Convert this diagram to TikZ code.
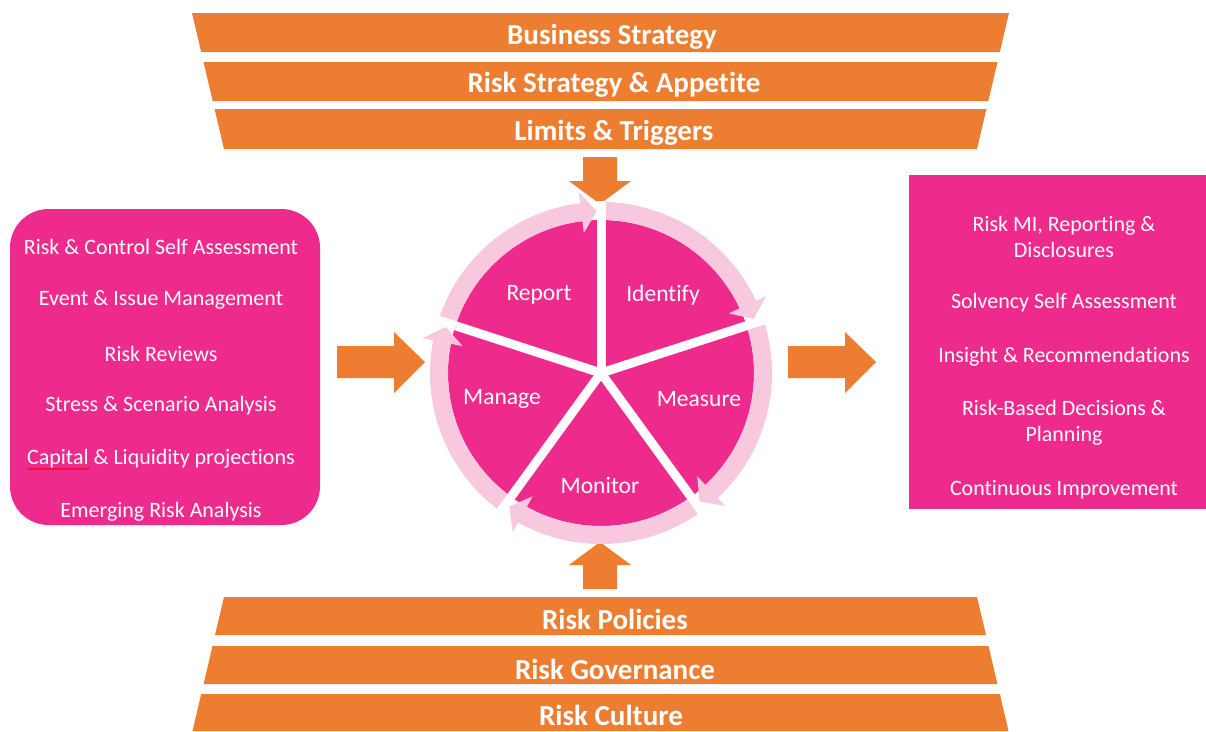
\documentclass[tikz,border=0pt]{standalone}
\usepackage{fontspec}
\setmainfont{Carlito}[Ligatures=NoCommon]
\usetikzlibrary{decorations.pathmorphing}
\definecolor{barorange}{HTML}{ED7D31}
\definecolor{wheelpink}{HTML}{EE2A8C}
\definecolor{ringpink}{HTML}{F7C8DE}
\begin{document}
\begin{tikzpicture}[x=0.02cm, y=0.02cm, line join=round,
	bar/.style={fill=barorange},
	bartext/.style={text=white, font=\bfseries\fontsize{16.5}{19}\selectfont, inner sep=0pt},
	item/.style={text=white, font=\fontsize{12.5}{14.7}\selectfont, align=center, inner sep=0pt},
	wheeltext/.style={text=white, font=\fontsize{13.4}{16}\selectfont, inner sep=0pt},
	ring/.style={fill=ringpink},
	spoke/.style={draw=white, line width=0.18cm}]
		\useasboundingbox (0,0) rectangle (1206,-731);
		% top funnel
		\fill[bar] (192,-13)--(1009,-13)--(999.8,-52)--(201.2,-52)--cycle;
		\fill[bar] (203.5,-62)--(997.5,-62)--(988.3,-101)--(212.7,-101)--cycle;
		\fill[bar] (214.6,-109)--(986.4,-109)--(977,-149)--(224,-149)--cycle;
		\node[bartext] (bstrat) at (612,-37) {Business Strategy};
		\node[bartext] (rsa) at (614,-85) {Risk Strategy \& Appetite};
		\node[bartext] (limits) at (614,-133) {Limits \& Triggers};
		% bottom funnel
		\fill[bar] (224,-597)--(977,-597)--(986,-635)--(215,-635)--cycle;
		\fill[bar] (212.5,-646)--(988.5,-646)--(997.4,-684)--(203.6,-684)--cycle;
		\fill[bar] (201.2,-694)--(999.8,-694)--(1008.5,-731)--(192.5,-731)--cycle;
		\node[bartext] (policies) at (615,-619) {Risk Policies};
		\node[bartext] (governance) at (615,-669) {Risk Governance};
		\node[bartext] (culture) at (611,-715) {Risk Culture};
		% block arrows
		\fill[bar] (583,-157)--(617,-157)--(617,-181)--(631,-181)--(600,-204)--(569,-181)--(583,-181)--cycle;
		\fill[bar] (583,-589)--(617,-589)--(617,-565)--(631,-565)--(600,-542)--(569,-565)--(583,-565)--cycle;
		\fill[bar] (337,-346)--(394,-346)--(394,-332)--(425,-362)--(394,-393)--(394,-378)--(337,-378)--cycle;
		\fill[bar] (788,-346)--(845,-346)--(845,-332)--(876,-362)--(845,-393)--(845,-378)--(788,-378)--cycle;
		% side boxes
		\fill[wheelpink, rounded corners=22pt] (10,-209) rectangle (320,-525);
		\fill[wheelpink] (909,-175) rectangle (1206,-509);
		\node[item] (rcsa) at (161,-247) {Risk \& Control Self Assessment};
		\node[item] (eim) at (161,-300) {Event \& Issue Management};
		\node[item] (rrev) at (161,-354) {Risk Reviews};
		\node[item] (ssa) at (161,-406) {Stress \& Scenario Analysis};
		\node[item] (clp) at (161,-459) {Capital \& Liquidity projections};
		\node[item] (era) at (161,-512) {Emerging Risk Analysis};
		\draw[red, line width=0.5pt, decorate, decoration={snake, amplitude=0.5pt, segment length=2.4pt}] (28,-469)--(90,-469);
		\node[item] (rmi) at (1064,-237) {Risk MI, Reporting \&\\Disclosures};
		\node[item] (solv) at (1064,-303) {Solvency Self Assessment};
		\node[item] (ins) at (1064,-357) {Insight \& Recommendations};
		\node[item] (rbd) at (1064,-423) {Risk-Based Decisions \&\\Planning};
		\node[item] (ci) at (1064,-490) {Continuous Improvement};
		% wheel
		\begin{scope}[shift={(601,-373)}]
			\fill[wheelpink] (0,0) circle[radius=153];
			\foreach \a in {90,18,-54,-126,-198}{
				\pgfmathsetmacro\tip{\a-70.5}
				\pgfmathsetmacro\hb{\a-65}
				\fill[ring] (\a:153) arc[start angle=\a, end angle=\hb, radius=153]--(\hb:141)--(\tip:162)--(\hb:182)--(\hb:171) arc[start angle=\hb, end angle=\a, radius=171]--cycle;
			}
			\foreach \a in {90,18,-54,-126,162}
				\draw[spoke] (0,0)--(\a:172);
		\end{scope}
		\node[wheeltext] (report) at (539,-295) {Report};
		\node[wheeltext] (identify) at (663,-295) {Identify};
		\node[wheeltext] (manage) at (502,-399) {Manage};
		\node[wheeltext] (measure) at (699,-399) {Measure};
		\node[wheeltext] (monitor) at (600,-485) {Monitor};
		\end{tikzpicture}
\end{document}
